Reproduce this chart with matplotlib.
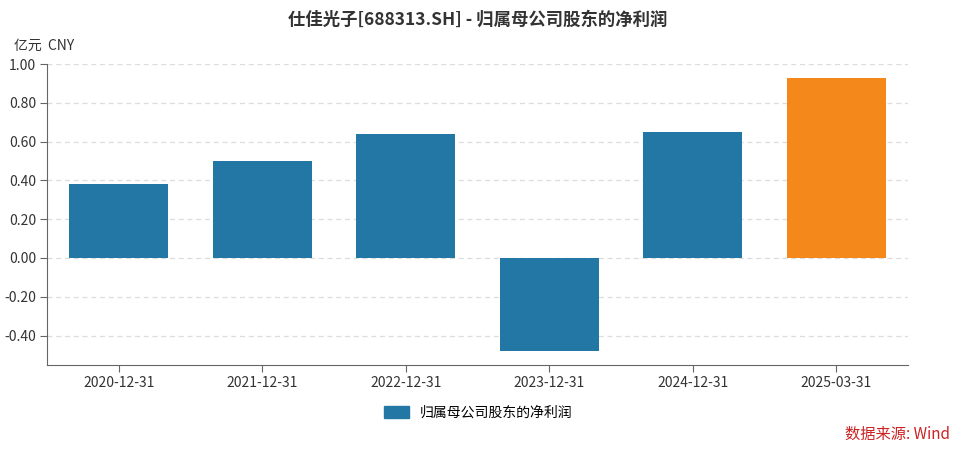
import matplotlib
matplotlib.use("Agg")
import matplotlib.pyplot as plt
from matplotlib.patches import Patch

plt.rcParams["font.family"] = ["Noto Sans CJK SC", "DejaVu Sans"]

# ============================================================
# Data
# ============================================================

periods = ["2020-12-31", "2021-12-31", "2022-12-31", "2023-12-31", "2024-12-31", "2025-03-31"]
net_profit = [0.38, 0.50, 0.64, -0.48, 0.65, 0.93]
y_ticks = [-0.40, -0.20, 0.00, 0.20, 0.40, 0.60, 0.80, 1.00]

BLUE = "#2377a4"
ORANGE = "#f5881a"
colors = [BLUE] * (len(periods) - 1) + [ORANGE]

# ============================================================
# Plot
# ============================================================

fig = plt.figure(figsize=(9.56, 4.58), dpi=100)
ax = fig.add_axes([47 / 956, 1 - 365 / 458, (908 - 47) / 956, (365 - 64) / 458])

x = range(len(periods))
ax.bar(x, net_profit, width=0.69, color=colors, zorder=3)

ax.set_xlim(-0.5, len(periods) - 0.5)
ax.set_ylim(-0.552, 1.0)
ax.set_yticks(y_ticks)
ax.set_yticklabels([f"{v:.2f}" for v in y_ticks], fontsize=10, color="#333333")
ax.set_xticks(list(x))
ax.set_xticklabels(periods, fontsize=10, color="#333333")

ax.grid(axis="y", linestyle=(0, (4, 3)), color="#dddddd", linewidth=0.9, zorder=0)

for side in ["top", "right"]:
    ax.spines[side].set_visible(False)
for side in ["left", "bottom"]:
    ax.spines[side].set_color("#666666")

ax.tick_params(axis="both", color="#666666", length=5, pad=3)

fig.text(0.5, 1 - 20 / 458, "仕佳光子[688313.SH] - 归属母公司股东的净利润",
         ha="center", va="center", fontsize=12.5, fontweight="bold", color="#333333")
fig.text(14 / 956, 1 - 46 / 458, "亿元  CNY", ha="left", va="center",
         fontsize=10, color="#333333")

handle = Patch(facecolor=BLUE, edgecolor=BLUE)
fig.legend([handle], ["归属母公司股东的净利润"], loc="center",
           bbox_to_anchor=(478 / 956, 1 - 413 / 458), frameon=False,
           fontsize=10, handlelength=1.8, handleheight=1.0)

fig.text(950 / 956, 1 - 434 / 458, "数据来源: Wind", ha="right", va="center",
         fontsize=11, color="#cc2222")

fig.savefig("out.png", dpi=100)
